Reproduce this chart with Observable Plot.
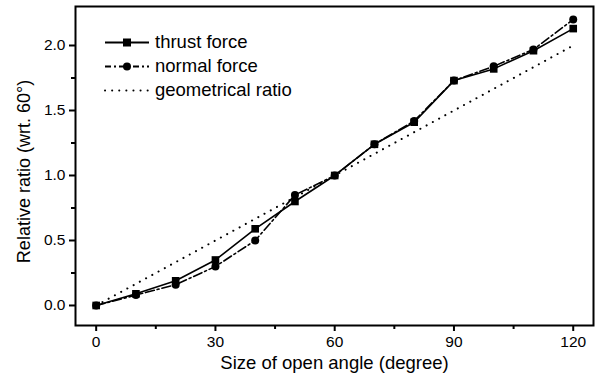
<!DOCTYPE html>
<html>
<head>
<meta charset="utf-8">
<script src="https://cdn.jsdelivr.net/npm/d3@7"></script>
<script src="https://cdn.jsdelivr.net/npm/@observablehq/plot@0.6"></script>
<style>
  body { margin: 0; background: #fff; font-family: "Liberation Sans", Arial, sans-serif; }
  #wrap { position: relative; width: 597px; height: 379px; }
  #wrap svg g[aria-label$="tick label"], #wrap svg g[aria-label$="tick label"] text { font-size: 15.5px !important; }
  #legend { position: absolute; left: 104px; top: 30px; font-size: 18.5px; color: #000; }
  #legend div { display: flex; align-items: center; height: 24px; }
  #legend svg { margin-right: 5px; }
</style>
</head>
<body>
<div id="wrap"></div>
<script>
const angles = [0, 10, 20, 30, 40, 50, 60, 70, 80, 90, 100, 110, 120];
const thrust = [0, 0.09, 0.19, 0.35, 0.59, 0.80, 1.00, 1.24, 1.41, 1.73, 1.82, 1.96, 2.13];
const normal = [0, 0.08, 0.16, 0.30, 0.50, 0.85, 1.00, 1.24, 1.42, 1.73, 1.84, 1.97, 2.20];
const geoAngles = [0, 120];
const geoRatio = [0, 2.0];
const xTicks = [0, 30, 60, 90, 120];
const xMinor = [15, 45, 75, 105];
const yTicks = [0, 0.5, 1.0, 1.5, 2.0];
const yMinor = [0.25, 0.75, 1.25, 1.75];
const xTitle = "Size of open angle (degree)";
const yTitle = "Relative ratio (wrt. 60°)";

const thrustData = angles.map((a, i) => ({a, v: thrust[i]}));
const normalData = angles.map((a, i) => ({a, v: normal[i]}));
const geoData = geoAngles.map((a, i) => ({a, v: geoRatio[i]}));

const chart = Plot.plot({
  width: 597,
  height: 379,
  marginLeft: 75,
  marginRight: 4,
  marginTop: 6,
  marginBottom: 54,
  style: {fontFamily: "Liberation Sans, Arial, sans-serif", fontSize: "15.5px", color: "#000", background: "#fff"},
  x: {domain: [-5.2, 125.1]},
  y: {domain: [-0.154, 2.3]},
  marks: [
    Plot.line(geoData, {x: "a", y: "v", stroke: "#000", strokeWidth: 2, strokeDasharray: "0.1 7", strokeLinecap: "round"}),
    Plot.line(normalData, {x: "a", y: "v", stroke: "#000", strokeWidth: 1.6, strokeDasharray: "9 3 2 3"}),
    Plot.line(thrustData, {x: "a", y: "v", stroke: "#000", strokeWidth: 1.6}),
    Plot.dot(normalData, {x: "a", y: "v", r: 4, fill: "#000", symbol: "circle"}),
    Plot.dot(thrustData, {x: "a", y: "v", r: 4.3, fill: "#000", symbol: "square"}),
    Plot.axisX({ticks: xTicks, tickSize: 6, tickPadding: 4, strokeWidth: 2, fontSize: 15.5, label: null}),
    Plot.axisX({ticks: xMinor, tickSize: 4, strokeWidth: 2, text: null, label: null}),
    Plot.axisY({ticks: yTicks, tickSize: 6, tickPadding: 4, strokeWidth: 2, fontSize: 15.5, tickFormat: d3.format(".1f"), label: null}),
    Plot.axisY({ticks: yMinor, tickSize: 4, strokeWidth: 2, text: null, label: null}),
    Plot.text([xTitle], {text: d => d, frameAnchor: "bottom", dy: 38, lineAnchor: "middle", textAnchor: "middle", fontSize: 18.5, fill: "#000"}),
    Plot.text([yTitle], {text: d => d, frameAnchor: "left", dx: -51, dy: 5.5, rotate: -90, lineAnchor: "middle", textAnchor: "middle", fontSize: 18, fill: "#000"}),
    Plot.frame({stroke: "#000", strokeWidth: 2})
  ]
});
document.getElementById("wrap").appendChild(chart);

const legend = document.createElement("div");
legend.id = "legend";
const items = [
  {label: "thrust force", dash: null, sym: "square"},
  {label: "normal force", dash: "6 3 2 3", sym: "circle"},
  {label: "geometrical ratio", dash: "0.1 7", sym: null}
];
legend.innerHTML = items.map(it => {
  let marker = "";
  if (it.sym === "square") marker = '<rect x="19" y="5.5" width="8" height="8" fill="#000"/>';
  if (it.sym === "circle") marker = '<circle cx="23" cy="9.5" r="4" fill="#000"/>';
  const w = it.sym ? 1.8 : 2;
  const dash = it.dash ? ` stroke-dasharray="${it.dash}"` : "";
  const cap = it.sym ? "" : ' stroke-linecap="round"';
  return `<div><svg width="46" height="19"><line x1="1" x2="45" y1="9.5" y2="9.5" stroke="#000" stroke-width="${w}"${dash}${cap}/>${marker}</svg><span>${it.label}</span></div>`;
}).join("");
document.getElementById("wrap").appendChild(legend);
</script>
</body>
</html>
